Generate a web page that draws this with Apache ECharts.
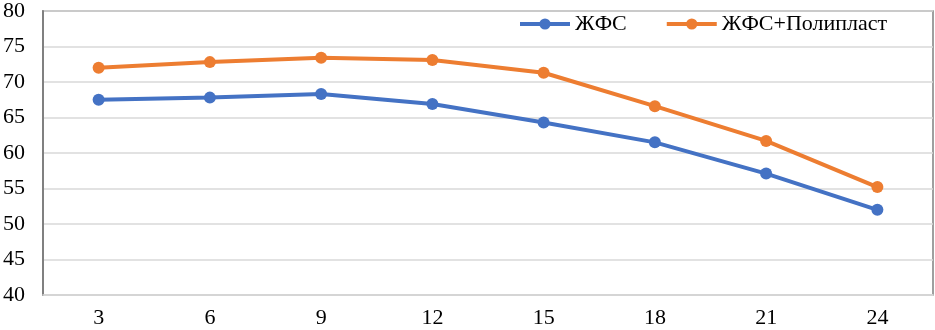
<!DOCTYPE html>
<html><head><meta charset="utf-8">
<script src="https://cdn.jsdelivr.net/npm/echarts@6/dist/echarts.min.js"></script>
<style>html,body{margin:0;padding:0;background:#fff}#c{width:935px;height:330px}</style>
</head><body><div id="c"></div>
<script>
const categories = ['3','6','9','12','15','18','21','24'];
const seriesNames = ['ЖФС','ЖФС+Полипласт'];
const valuesA = [67.5, 67.8, 68.3, 66.9, 64.3, 61.5, 57.1, 52.0];
const valuesB = [72.0, 72.8, 73.4, 73.1, 71.3, 66.6, 61.7, 55.2];
const yTicks = {min: 40, max: 80, interval: 5};

const font = '"Liberation Serif", "Times New Roman", serif';
const chart = echarts.init(document.getElementById('c'), null, {renderer: 'canvas'});
chart.setOption({
  animation: false,
  grid: {left: 42, right: 2, top: 9, bottom: 35, show: true, borderColor: '#808080', borderWidth: 1.5, backgroundColor: 'transparent'},
  legend: {
    top: 8, left: 513,
    itemWidth: 50, itemHeight: 14, itemGap: 38,
    lineStyle: {width: 4},
    textStyle: {fontFamily: font, fontSize: 22, color: '#000'},
    data: seriesNames
  },
  xAxis: {
    type: 'category', data: categories, boundaryGap: true,
    axisLine: {show: true, lineStyle: {color: '#d9d9d9', width: 1.5}},
    axisTick: {show: false},
    axisLabel: {fontFamily: font, fontSize: 22, color: '#000', margin: 12}
  },
  yAxis: {
    type: 'value', min: yTicks.min, max: yTicks.max, interval: yTicks.interval,
    axisLine: {show: true, lineStyle: {color: '#808080', width: 2}},
    axisTick: {show: false},
    splitLine: {lineStyle: {color: '#d9d9d9', width: 1.5}},
    axisLabel: {fontFamily: font, fontSize: 22, color: '#000', margin: 18}
  },
  series: [
    {name: seriesNames[0], type: 'line', data: valuesA, symbol: 'circle', symbolSize: 12,
     itemStyle: {color: '#4472C4'}, lineStyle: {color: '#4472C4', width: 4}},
    {name: seriesNames[1], type: 'line', data: valuesB, symbol: 'circle', symbolSize: 12,
     itemStyle: {color: '#ED7D31'}, lineStyle: {color: '#ED7D31', width: 4}}
  ]
});
</script></body></html>
